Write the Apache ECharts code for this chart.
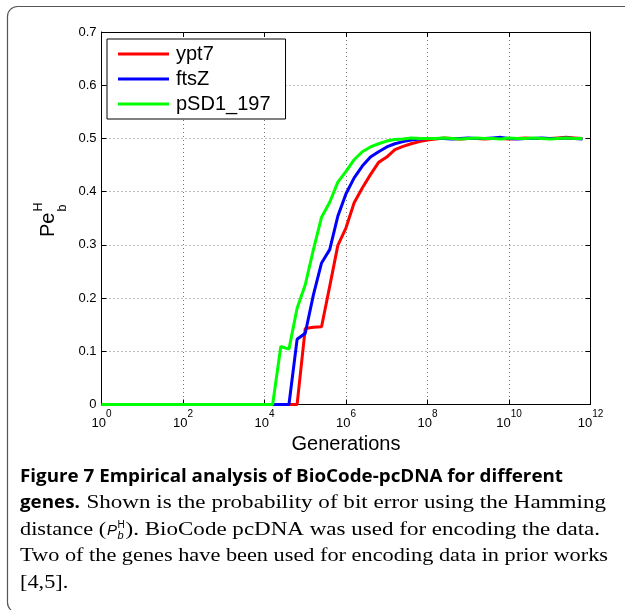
<!DOCTYPE html>
<html>
<head>
<meta charset="utf-8">
<script src="https://cdn.jsdelivr.net/npm/echarts@6/dist/echarts.min.js"></script>
<style>
html,body{margin:0;padding:0;background:#fff;}
#c{width:625px;height:610px;}
</style>
</head>
<body>
<div id="c"></div>
<script>
// log10 of number of generations
const genExp = [0, 4.2, 4.4, 4.6, 4.8, 5.0, 5.2, 5.4, 5.6, 5.8, 6.0, 6.2, 6.4, 6.6, 6.8, 7.0, 7.2, 7.4, 7.6, 7.8, 8.0,
  8.2, 8.4, 8.6, 8.8, 9.0, 9.2, 9.4, 9.6, 9.8, 10.0, 10.2, 10.4, 10.6, 10.8, 11.0, 11.2, 11.4, 11.6, 11.8];
const seriesNames = ['ypt7', 'ftsZ', 'pSD1_197'];
const ypt7 = [0, 0, 0, 0, 0, 0.143, 0.145, 0.146, 0.222, 0.299, 0.332, 0.379, 0.407, 0.432, 0.455, 0.465, 0.479, 0.485, 0.490, 0.494, 0.497,
  0.499, 0.501, 0.500, 0.499, 0.500, 0.500, 0.499, 0.500, 0.500, 0.499, 0.500, 0.501, 0.500, 0.500, 0.500, 0.501, 0.502, 0.501, 0.500];
const ftsZ = [0, 0, 0, 0, 0.1225, 0.134, 0.206, 0.266, 0.291, 0.354, 0.396, 0.426, 0.448, 0.465, 0.475, 0.484, 0.490, 0.494, 0.497, 0.499, 0.500,
  0.500, 0.500, 0.499, 0.500, 0.501, 0.500, 0.500, 0.501, 0.502, 0.500, 0.499, 0.500, 0.500, 0.501, 0.500, 0.500, 0.501, 0.500, 0.499];
const pSD1_197 = [0, 0, 0.109, 0.104, 0.181, 0.225, 0.291, 0.352, 0.380, 0.418, 0.438, 0.460, 0.475, 0.484, 0.490, 0.495, 0.498, 0.499, 0.501, 0.500, 0.500,
  0.500, 0.501, 0.500, 0.499, 0.500, 0.501, 0.500, 0.500, 0.499, 0.501, 0.500, 0.500, 0.501, 0.500, 0.499, 0.500, 0.501, 0.500, 0.500];
const seriesColors = ['#ff0000', '#0000ff', '#00ff00'];
const xAxisTitle = 'Generations';
const captionBold1 = 'Figure 7 Empirical analysis of BioCode-pcDNA for different';
const captionBold2 = 'genes.';
const captionText2 = 'Shown is the probability of bit error using the Hamming';
const captionText3a = 'distance (';
const captionText3b = '). BioCode pcDNA was used for encoding the data.';
const captionText4 = 'Two of the genes have been used for encoding data in prior works';
const captionText5 = '[4,5].';

const SANS = '"Liberation Sans", Arial, Helvetica, sans-serif';
const SERIF = '"Liberation Serif", "Times New Roman", serif';
const HEAD = '"Open Sans", "Liberation Sans", sans-serif';

function toPairs(vals) { return genExp.map((e, i) => [Math.pow(10, e), vals[i]]); }
const allVals = [ypt7, ftsZ, pSD1_197];

const mctx = document.createElement('canvas').getContext('2d');
function mw(text, font) { mctx.font = font; return mctx.measureText(text).width; }

const chart = echarts.init(document.getElementById('c'), null, {renderer: 'canvas'});

// caption layout
const serifSize = 18, headSize = 17;
const serifFont = serifSize + 'px ' + SERIF;
const headFont = 'bold ' + headSize + 'px ' + HEAD;
const sSerif = 588 / mw(captionText4, serifFont);
const sHead = 543 / mw(captionBold1, headFont);
const baselines = [482.7, 509.4, 536, 562.7, 589.4];
function capText(str, x, base, opts) {
  const fs = opts.fontSize;
  return {
    type: 'text', x: x, y: base - 0.34 * fs, scaleX: opts.scaleX || 1, silent: true,
    style: {text: str, fontSize: fs, fontFamily: opts.family, fontWeight: opts.weight || 'normal',
      fontStyle: opts.style || 'normal', fill: '#000', verticalAlign: 'middle', align: 'left'}
  };
}
const g = [];
g.push({type: 'rect', shape: {x: 7.5, y: 6.5, width: 660, height: 606, r: 10}, silent: true,
  style: {fill: 'none', stroke: '#555', lineWidth: 1.2}, z: 0});
g.push(capText(captionBold1, 20, baselines[0], {fontSize: headSize, family: HEAD, weight: 'bold', scaleX: sHead}));
const wGenes = mw(captionBold2, headFont) * sHead;
g.push(capText(captionBold2, 20, baselines[1], {fontSize: headSize, family: HEAD, weight: 'bold', scaleX: sHead}));
const x2 = 20 + wGenes + mw(' ', serifFont) * sSerif + 1;
const s2 = (606 - x2) / mw(captionText2, serifFont);
g.push(capText(captionText2, x2, baselines[1], {fontSize: serifSize, family: SERIF, scaleX: s2}));
// line 3 with P_b^H
let x3 = 20;
g.push(capText(captionText3a, x3, baselines[2], {fontSize: serifSize, family: SERIF, scaleX: sSerif}));
x3 += mw(captionText3a, serifFont) * sSerif + 1;
const pFont = 'italic 15px ' + SANS;
g.push(capText('P', x3, baselines[2], {fontSize: 15, family: SANS, style: 'italic'}));
x3 += mw('P', pFont) + 0.5;
g.push(capText('H', x3, baselines[2] - 7, {fontSize: 10, family: SANS}));
g.push(capText('b', x3, baselines[2] + 3.5, {fontSize: 11, family: SANS, style: 'italic'}));
x3 += 8;
const rest3W = 600 - x3;
g.push(capText(captionText3b, x3, baselines[2], {fontSize: serifSize, family: SERIF, scaleX: rest3W / mw(captionText3b, serifFont)}));
g.push(capText(captionText4, 20, baselines[3], {fontSize: serifSize, family: SERIF, scaleX: sSerif}));
g.push(capText(captionText5, 20, baselines[4], {fontSize: serifSize, family: SERIF, scaleX: sSerif}));
// y axis label  Pe_b^H (rotated)
g.push({
  type: 'group', x: 55.5, y: 237, rotation: Math.PI / 2, silent: true,
  children: [
    {type: 'text', x: 0, y: -6.8, style: {text: 'Pe', fontSize: 20, fontFamily: SANS, fill: '#000', verticalAlign: 'middle', align: 'left'}},
    {type: 'text', x: 25.5, y: -16.5, style: {text: 'H', fontSize: 12.5, fontFamily: SANS, fill: '#000', verticalAlign: 'middle', align: 'left'}},
    {type: 'text', x: 25.5, y: 7, style: {text: 'b', fontSize: 12.5, fontFamily: SANS, fill: '#000', verticalAlign: 'middle', align: 'left'}}
  ]
});

const gridLine = {show: true, lineStyle: {color: '#777', width: 1, type: [1, 3]}};
const axisBlack = {show: true, onZero: false, lineStyle: {color: '#000', width: 1}};

const option = {
  animation: false,
  backgroundColor: '#fff',
  grid: {left: 101.5, right: 34.5, top: 32, bottom: 205.5, containLabel: false},
  legend: {
    orient: 'vertical', left: 107, top: 39,
    data: seriesNames,
    icon: 'rect', itemWidth: 51, itemHeight: 3, itemGap: 5,
    padding: [5, 15, 5, 11],
    borderColor: '#000', borderWidth: 1, backgroundColor: '#fff',
    textStyle: {fontSize: 20, fontFamily: SANS, color: '#000', lineHeight: 20, padding: [0, 0, 0, 2]},
    selectedMode: false
  },
  xAxis: [{
    type: 'log', logBase: 10, min: 1, max: 1e12, interval: 2,
    axisLine: axisBlack,
    axisTick: {show: true, inside: true, length: 5, lineStyle: {color: '#000'}},
    minorTick: {show: false},
    splitLine: gridLine,
    axisLabel: {
      margin: 5, color: '#000', fontFamily: SANS,
      formatter: function (v) { const e = Math.round(Math.log10(v)); return '{b|10}{s|' + e + '}'; },
      rich: {
        b: {fontSize: 13, fontFamily: SANS, color: '#000', lineHeight: 20, verticalAlign: 'bottom'},
        s: {fontSize: 10, fontFamily: SANS, color: '#000', lineHeight: 20, verticalAlign: 'top'}
      }
    },
    name: xAxisTitle, nameLocation: 'middle', nameGap: 24,
    nameTextStyle: {fontSize: 20, fontFamily: SANS, color: '#000'}
  }, {
    type: 'log', logBase: 10, min: 1, max: 1e12, interval: 2, position: 'top',
    axisLine: axisBlack,
    axisTick: {show: true, inside: true, length: 5, lineStyle: {color: '#000'}},
    axisLabel: {show: false}, splitLine: {show: false}
  }],
  yAxis: [{
    type: 'value', min: 0, max: 0.7, interval: 0.1,
    axisLine: axisBlack,
    axisTick: {show: true, inside: true, length: 5, lineStyle: {color: '#000'}},
    splitLine: gridLine,
    axisLabel: {margin: 5, color: '#000', fontSize: 13, fontFamily: SANS,
      formatter: function (v) { return v === 0 ? '0' : v.toFixed(1); }}
  }, {
    type: 'value', min: 0, max: 0.7, interval: 0.1, position: 'right',
    axisLine: axisBlack,
    axisTick: {show: true, inside: true, length: 5, lineStyle: {color: '#000'}},
    axisLabel: {show: false}, splitLine: {show: false}
  }],
  series: seriesNames.map((n, i) => ({
    name: n, type: 'line', xAxisIndex: 0, yAxisIndex: 0,
    data: toPairs(allVals[i]), symbol: 'none', showSymbol: false,
    lineStyle: {color: seriesColors[i], width: 3}, itemStyle: {color: seriesColors[i]},
    clip: true, z: 2 + i
  })),
  graphic: g
};
chart.setOption(option);
</script>
</body>
</html>
